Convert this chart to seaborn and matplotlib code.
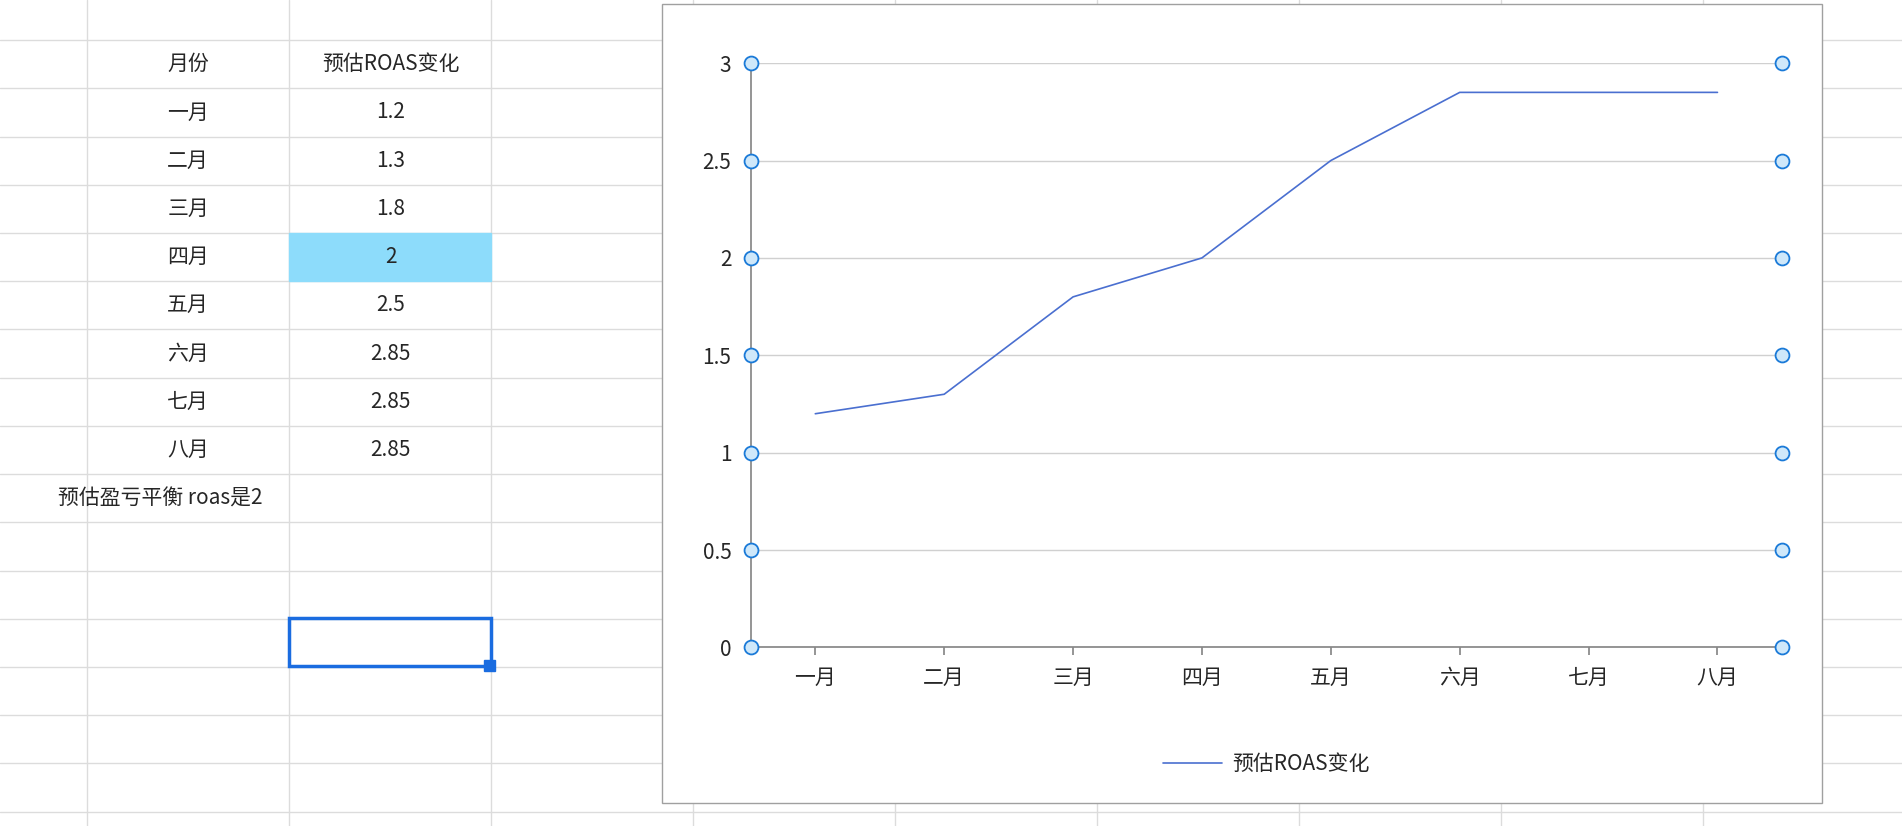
import matplotlib
matplotlib.use("Agg")
import matplotlib.pyplot as plt
import seaborn as sns
import pandas as pd
from matplotlib.patches import Rectangle

months = ["一月", "二月", "三月", "四月", "五月", "六月", "七月", "八月"]
roas = [1.2, 1.3, 1.8, 2, 2.5, 2.85, 2.85, 2.85]
roas_labels = ["1.2", "1.3", "1.8", "2", "2.5", "2.85", "2.85", "2.85"]
yticks = [0, 0.5, 1, 1.5, 2, 2.5, 3]
ytick_labels = ["0", "0.5", "1", "1.5", "2", "2.5", "3"]
series_name = "预估ROAS变化"
note = "预估盈亏平衡 roas是2"

sns.set_theme(style="white")
plt.rcParams['font.family'] = ['Noto Sans CJK SC', 'DejaVu Sans']

W, H = 1568, 680
fig = plt.figure(figsize=(19.02, 8.26), dpi=100)
bg = fig.add_axes([0, 0, 1, 1])
bg.set_xlim(0, W); bg.set_ylim(H, 0); bg.axis("off")

gc = "#dcdcdc"
for x in [72, 238.5, 405, 571.5, 738, 904.5, 1071, 1237.5, 1404]:
    bg.plot([x, x], [0, H], color=gc, lw=1)
for i in range(17):
    y = 33 + i * 39.7
    bg.plot([0, W], [y, y], color=gc, lw=1)

fs = 15
def rowc(i):
    return 33 + 39.7 * i + 19.85

bg.add_patch(Rectangle((238.5, 33 + 39.7 * 4), 166.5, 39.7, color="#8ddcfb", zorder=2))
bg.text(155, rowc(0), "月份", ha="center", va="center", fontsize=fs)
bg.text(322, rowc(0), series_name, ha="center", va="center", fontsize=fs)
for i, (m, v) in enumerate(zip(months, roas_labels)):
    bg.text(155, rowc(i + 1), m, ha="center", va="center", fontsize=fs, zorder=3)
    bg.text(322, rowc(i + 1), v, ha="center", va="center", fontsize=fs, zorder=3)
bg.text(48, rowc(9), note, ha="left", va="center", fontsize=fs)

bg.add_patch(Rectangle((238.5, 509), 166.5, 39.5, fill=False, ec="#1a6ce0", lw=2.5, zorder=4))
bg.add_patch(Rectangle((399, 543), 9, 9, color="#1a6ce0", zorder=5))

# chart box
bg.add_patch(Rectangle((546, 3), 956, 658, facecolor="white", ec="#a0a0a0", lw=1, zorder=6))

x0, x1, yt, yb = 619, 1469, 52, 533
ax = fig.add_axes([x0 / W, 1 - yb / H, (x1 - x0) / W, (yb - yt) / H], zorder=10)
ax.patch.set_alpha(0)
df = pd.DataFrame({"month": months, "roas": roas, "x": range(len(months))})
sns.lineplot(data=df, x="x", y="roas", ax=ax, color="#4a6fd0", lw=1.2, label=series_name)
ax.set_xlim(-0.5, len(months) - 0.5)
ax.set_ylim(0, 3)
ax.set_yticks(yticks)
ax.set_yticklabels(ytick_labels, fontsize=fs)
ax.set_xticks(range(len(months)))
ax.set_xticklabels(months, fontsize=fs)
ax.set_xlabel(""); ax.set_ylabel("")
ax.grid(axis="y", color="#d0d0d0", lw=1)
ax.set_axisbelow(True)
for s in ["top", "right"]:
    ax.spines[s].set_visible(False)
ax.spines["left"].set_color("#888888")
ax.spines["bottom"].set_color("#888888")
ax.tick_params(axis="x", length=6, color="#888888", pad=8, direction="out", bottom=True)
ax.tick_params(axis="y", length=0, pad=14)
for yv in yticks:
    for xv in [-0.5, len(months) - 0.5]:
        ax.plot(xv, yv, "o", ms=10, mfc="#cfe8fa", mec="#1a7ad8", mew=1.3, clip_on=False, zorder=12)
leg = ax.legend(loc="center", bbox_to_anchor=(0.5, -0.2), frameon=False, fontsize=fs,
                handlelength=2.8, handletextpad=0.5)

fig.savefig("out.png", dpi=100)
